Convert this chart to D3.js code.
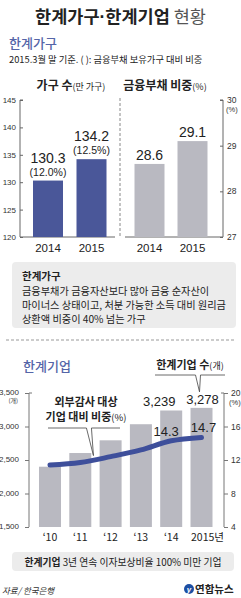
<!DOCTYPE html>
<html>
<head>
<meta charset="utf-8">
<script src="https://cdn.jsdelivr.net/npm/d3@7"></script>
<style>
  body { margin: 0; background: #fff; }
  svg { display: block; }
</style>
</head>
<body>
<div id="chart"></div>
<script>
// 한계가구 data
const hhYears = ['2014', '2015']
const hhCount = [130.3, 134.2]          // 만 가구
const hhCountPct = ['(12.0%)', '(12.5%)']
const hhDebtShare = [28.6, 29.1]        // %
const hhLeftTicks = [120, 125, 130, 135, 140, 145]
const hhRightTicks = [27, 28, 29, 30]

// 한계기업 data
const firmYears = ['‘10', '‘11', '‘12', '‘13', '‘14', '2015년']
const firmCount = [2400, 2604, 2794, 3034, 3239, 3278]
const firmShare = [11.4, 11.7, 12.4, 13.2, 14.3, 14.7]
const firmCountTicks = [1500, 2000, 2500, 3000, 3500]
const firmShareTicks = [4, 8, 12, 16, 20]

const W = 241, H = 598
const KR = '"Noto Sans CJK KR", "Noto Sans", sans-serif'
const NUM = '"Liberation Sans Narrow", "Liberation Sans", Arial, sans-serif'
const blue = '#4a5799'
const gray = '#b9b9c1'
const ink = '#222'

const svg = d3.select('#chart').append('svg')
  .attr('width', W).attr('height', H)

// title
const title = svg.append('text')
  .attr('x', W / 2).attr('y', 23)
  .attr('text-anchor', 'middle')
  .attr('font-family', KR).attr('font-size', 17.5).attr('fill', ink)
title.append('tspan').attr('font-weight', 700).text('한계가구')
title.append('tspan').attr('font-weight', 700).attr('font-family', NUM).text('·')
title.append('tspan').attr('font-weight', 700).text('한계기업')
title.append('tspan').attr('font-weight', 400).attr('fill', '#555').text(' 현황')

// section 1 header
svg.append('text').attr('x', 9).attr('y', 48)
  .attr('font-family', KR).attr('font-size', 13).attr('font-weight', 500).attr('fill', '#5565a8')
  .text('한계가구')
svg.append('text').attr('x', 9).attr('y', 63)
  .attr('font-family', KR).attr('font-size', 9.3).attr('fill', ink)
  .text('2015.3월 말 기준. (  ): 금융부채 보유가구 대비 비중')

// chart 1 headings
const h1 = svg.append('text').attr('x', 71).attr('y', 90).attr('text-anchor', 'middle')
  .attr('font-family', KR).attr('fill', ink)
h1.append('tspan').attr('font-size', 12).attr('font-weight', 700).text('가구 수')
h1.append('tspan').attr('font-size', 9).text('(만 가구)')
const h2 = svg.append('text').attr('x', 165).attr('y', 90).attr('text-anchor', 'middle')
  .attr('font-family', KR).attr('fill', ink)
h2.append('tspan').attr('font-size', 12).attr('font-weight', 700).text('금융부채 비중')
h2.append('tspan').attr('font-size', 9).text('(%)')

// chart 1 scales
const yL = d3.scaleLinear().domain([120, 145]).range([237, 100])
const yR = d3.scaleLinear().domain([27, 30]).range([237, 100])
const xL = d3.scalePoint().domain(hhYears).range([48, 91.5])
const xR = d3.scalePoint().domain(hhYears).range([149.5, 192.5])
const bw1 = 30

// left axis
const axL = svg.append('g').attr('transform', 'translate(20,0)')
  .call(d3.axisRight(yL).tickValues(hhLeftTicks).tickSize(3).tickFormat(''))
axL.select('.domain').attr('stroke', '#666').attr('d', `M3,${yL(145)}H0V${yL(120)}`)
axL.selectAll('.tick line').attr('stroke', '#666')
svg.append('g').selectAll('text').data(hhLeftTicks).join('text')
  .attr('x', 16).attr('y', d => yL(d) + 3).attr('text-anchor', 'end')
  .attr('font-family', NUM).attr('font-size', 8).attr('fill', '#333')
  .text(d => d)

// right axis
const axR = svg.append('g').attr('transform', 'translate(223,0)')
  .call(d3.axisLeft(yR).tickValues(hhRightTicks).tickSize(3).tickFormat(''))
axR.select('.domain').attr('stroke', '#666').attr('d', `M-3,${yR(30)}H0V${yR(27)}`)
axR.selectAll('.tick line').attr('stroke', '#666')
svg.append('g').selectAll('text').data(hhRightTicks).join('text')
  .attr('x', 227).attr('y', d => yR(d) + 3)
  .attr('font-family', NUM).attr('font-size', 8.5).attr('fill', '#333')
  .text(d => d)
svg.append('text').attr('x', 226).attr('y', yR(30) + 12)
  .attr('font-family', NUM).attr('font-size', 7.5).attr('fill', '#333').text('(%)')

// baselines and separator
svg.append('line').attr('x1', 20).attr('x2', 115).attr('y1', yL(120)).attr('y2', yL(120))
  .attr('stroke', '#666')
svg.append('line').attr('x1', 125).attr('x2', 223).attr('y1', yR(27)).attr('y2', yR(27))
  .attr('stroke', '#666')
svg.append('line').attr('x1', 120).attr('x2', 120).attr('y1', 98).attr('y2', 237)
  .attr('stroke', '#888').attr('stroke-dasharray', '3,2')

// bars chart 1
svg.append('g').selectAll('rect').data(hhCount).join('rect')
  .attr('x', (d, i) => xL(hhYears[i]) - bw1 / 2).attr('width', bw1)
  .attr('y', d => yL(d)).attr('height', d => yL(120) - yL(d))
  .attr('fill', blue)
svg.append('g').selectAll('rect').data(hhDebtShare).join('rect')
  .attr('x', (d, i) => xR(hhYears[i]) - bw1 / 2).attr('width', bw1)
  .attr('y', d => yR(d)).attr('height', d => yR(27) - yR(d))
  .attr('fill', gray)

// value labels chart 1
svg.append('g').selectAll('text').data(hhCount).join('text')
  .attr('x', (d, i) => xL(hhYears[i])).attr('y', d => yL(d) - 18)
  .attr('text-anchor', 'middle').attr('font-family', NUM).attr('font-size', 14)
  .attr('fill', ink).text(d => d.toFixed(1))
svg.append('g').selectAll('text').data(hhCountPct).join('text')
  .attr('x', (d, i) => xL(hhYears[i])).attr('y', (d, i) => yL(hhCount[i]) - 5)
  .attr('text-anchor', 'middle').attr('font-family', NUM).attr('font-size', 10.5)
  .attr('fill', ink).text(d => d)
svg.append('g').selectAll('text').data(hhDebtShare).join('text')
  .attr('x', (d, i) => xR(hhYears[i])).attr('y', d => yR(d) - 4)
  .attr('text-anchor', 'middle').attr('font-family', NUM).attr('font-size', 14)
  .attr('fill', ink).text(d => d.toFixed(1))

// x labels chart 1
svg.append('g').selectAll('text').data(hhYears.concat(hhYears)).join('text')
  .attr('x', (d, i) => i < 2 ? xL(d) : xR(d)).attr('y', 252)
  .attr('text-anchor', 'middle').attr('font-family', NUM).attr('font-size', 11.5)
  .attr('fill', ink).text(d => d)

// definition box 1
svg.append('rect').attr('x', 12).attr('y', 262).attr('width', 224).attr('height', 66)
  .attr('rx', 4).attr('fill', '#ececec')
const defLines = [
  '금융부채가 금융자산보다 많아 금융 순자산이',
  '마이너스 상태이고, 처분 가능한 소득 대비 원리금',
  '상환액 비중이 40% 넘는 가구'
]
svg.append('text').attr('x', 22).attr('y', 280)
  .attr('font-family', KR).attr('font-size', 10.5).attr('font-weight', 700)
  .attr('fill', ink).text('한계가구')
svg.append('g').selectAll('text').data(defLines).join('text')
  .attr('x', 22).attr('y', (d, i) => 295 + i * 14)
  .attr('font-family', KR).attr('font-size', 10.2).attr('fill', ink)
  .text(d => d)

svg.append('line').attr('x1', 6).attr('x2', 236).attr('y1', 340).attr('y2', 340)
  .attr('stroke', '#999').attr('stroke-dasharray', '3,2')

// section 2 header
svg.append('text').attr('x', 23).attr('y', 371)
  .attr('font-family', KR).attr('font-size', 13).attr('font-weight', 500).attr('fill', '#5565a8')
  .text('한계기업')

// chart 2 scales
const yC = d3.scaleLinear().domain([1500, 3500]).range([527, 393])
const yP = d3.scaleLinear().domain([4, 20]).range([527, 393])
const xC = d3.scalePoint().domain(firmYears).range([50, 201.5])
const bw2 = 22

// left axis chart 2
const axC = svg.append('g').attr('transform', 'translate(29,0)')
  .call(d3.axisLeft(yC).tickValues(firmCountTicks).tickSize(4).tickFormat(''))
axC.select('.domain').attr('stroke', '#777').attr('d', `M3,${yC(3500)}H0V${yC(1500)}`)
axC.selectAll('.tick line').attr('stroke', '#777')
svg.append('g').selectAll('text').data(firmCountTicks).join('text')
  .attr('x', 19).attr('y', d => yC(d) + 2).attr('text-anchor', 'end')
  .attr('font-family', NUM).attr('font-size', 8).attr('fill', '#333')
  .text(d3.format(','))
svg.append('text').attr('x', 18).attr('y', yC(3500) + 10).attr('text-anchor', 'end')
  .attr('font-family', KR).attr('font-size', 6).attr('fill', '#333').text('(개)')

// right axis chart 2
const axP = svg.append('g').attr('transform', 'translate(224,0)')
  .call(d3.axisRight(yP).tickValues(firmShareTicks).tickSize(4).tickFormat(''))
axP.select('.domain').attr('stroke', '#777').attr('d', `M-3,${yP(20)}H0V${yP(4)}`)
axP.selectAll('.tick line').attr('stroke', '#777')
svg.append('g').selectAll('text').data(firmShareTicks).join('text')
  .attr('x', 231).attr('y', d => yP(d) + 3)
  .attr('font-family', NUM).attr('font-size', 8.5).attr('fill', '#333')
  .text(d => d)
svg.append('text').attr('x', 229).attr('y', yP(20) + 12)
  .attr('font-family', NUM).attr('font-size', 7.5).attr('fill', '#333').text('(%)')

// bars chart 2
svg.append('g').selectAll('rect').data(firmCount).join('rect')
  .attr('x', (d, i) => xC(firmYears[i]) - bw2 / 2).attr('width', bw2)
  .attr('y', d => yC(d)).attr('height', d => yC(1500) - yC(d))
  .attr('fill', gray)

// share line
const line = d3.line()
  .x((d, i) => xC(firmYears[i]))
  .y(d => yP(d))
  .curve(d3.curveMonotoneX)
svg.append('path').datum(firmShare).attr('d', line)
  .attr('fill', 'none').attr('stroke', '#3e4f9b').attr('stroke-width', 5)
  .attr('stroke-linecap', 'round')

// labels for last two years (2014 count label sits left of its bar)
const lastIdx = [4, 5]
const countShift = { 4: -12, 5: 1 }
svg.append('g').selectAll('text').data(lastIdx).join('text')
  .attr('x', i => xC(firmYears[i]) + countShift[i]).attr('y', i => yC(firmCount[i]) - 4)
  .attr('text-anchor', 'middle').attr('font-family', NUM).attr('font-size', 13)
  .attr('fill', ink).text(i => d3.format(',')(firmCount[i]))
svg.append('g').selectAll('text').data(lastIdx).join('text')
  .attr('x', i => xC(firmYears[i]) + (i === 4 ? -5 : 2)).attr('y', i => yP(firmShare[i]) - 5)
  .attr('text-anchor', 'middle').attr('font-family', NUM).attr('font-size', 13)
  .attr('fill', ink).text(i => firmShare[i].toFixed(1))

// x labels chart 2
svg.append('g').selectAll('text').data(firmYears).join('text')
  .attr('x', (d, i) => xC(d) + (i === 5 ? 6 : 0)).attr('y', 541)
  .attr('text-anchor', 'middle').attr('font-family', KR).attr('font-size', 10.5)
  .attr('fill', ink).text(d => d)

// callout: 한계기업 수
svg.append('text').attr('x', 190).attr('y', 369).attr('text-anchor', 'middle')
  .attr('font-family', KR).attr('font-size', 11).attr('fill', ink)
  .call(t => {
    t.append('tspan').attr('font-weight', 700).text('한계기업 수')
    t.append('tspan').attr('font-size', 9).text('(개)')
  })
const tip1x = xC(firmYears[5]) - 2
const tip1y = yC(firmCount[5]) - 16
svg.append('path')
  .attr('d', `M155,375H${tip1x - 4}L${tip1x},${tip1y}L${tip1x + 1},375H225`)
  .attr('fill', 'none').attr('stroke', '#444').attr('stroke-width', 0.8)

// callout: 외부감사 대상 기업 대비 비중
svg.append('text').attr('x', 86).attr('y', 406).attr('text-anchor', 'middle')
  .attr('font-family', KR).attr('font-size', 11).attr('font-weight', 700).attr('fill', ink)
  .text('외부감사 대상')
svg.append('text').attr('x', 86).attr('y', 421).attr('text-anchor', 'middle')
  .attr('font-family', KR).attr('font-size', 11).attr('font-weight', 700).attr('fill', ink)
  .call(t => {
    t.append('tspan').text('기업 대비 비중')
    t.append('tspan').attr('font-weight', 400).attr('font-size', 9.5).text('(%)')
  })
const tip2x = (xC(firmYears[1]) + xC(firmYears[2])) / 2 - 2
const tip2y = yP((firmShare[1] + firmShare[2]) / 2) - 4
svg.append('path')
  .attr('d', `M48,428H${tip2x - 7}L${tip2x},${tip2y}L${tip2x - 2},428H120`)
  .attr('fill', 'none').attr('stroke', '#444').attr('stroke-width', 0.8)

// definition box 2
svg.append('rect').attr('x', 12).attr('y', 552).attr('width', 222).attr('height', 19)
  .attr('rx', 4).attr('fill', '#ececec')
svg.append('text').attr('x', 123).attr('y', 566).attr('text-anchor', 'middle')
  .attr('font-family', KR).attr('font-size', 9.8).attr('fill', ink)
  .call(t => {
    t.append('tspan').attr('font-weight', 700).text('한계기업')
    t.append('tspan').text(' 3년 연속 이자보상비율 100% 미만 기업')
  })

// source and logo
svg.append('text').attr('x', 2).attr('y', 594)
  .attr('font-family', KR).attr('font-size', 8.5).attr('font-style', 'italic')
  .attr('fill', '#333').text('자료/ 한국은행')
svg.append('circle').attr('cx', 189).attr('cy', 589).attr('r', 5).attr('fill', '#1d4fa3')
svg.append('text').attr('x', 189).attr('y', 592).attr('text-anchor', 'middle')
  .attr('font-family', NUM).attr('font-size', 8).attr('font-style', 'italic')
  .attr('font-weight', 700).attr('fill', '#fff').text('y')
svg.append('text').attr('x', 195).attr('y', 593)
  .attr('font-family', KR).attr('font-size', 10.5).attr('font-weight', 700)
  .attr('fill', '#222').text('연합뉴스')
</script>
</body>
</html>
